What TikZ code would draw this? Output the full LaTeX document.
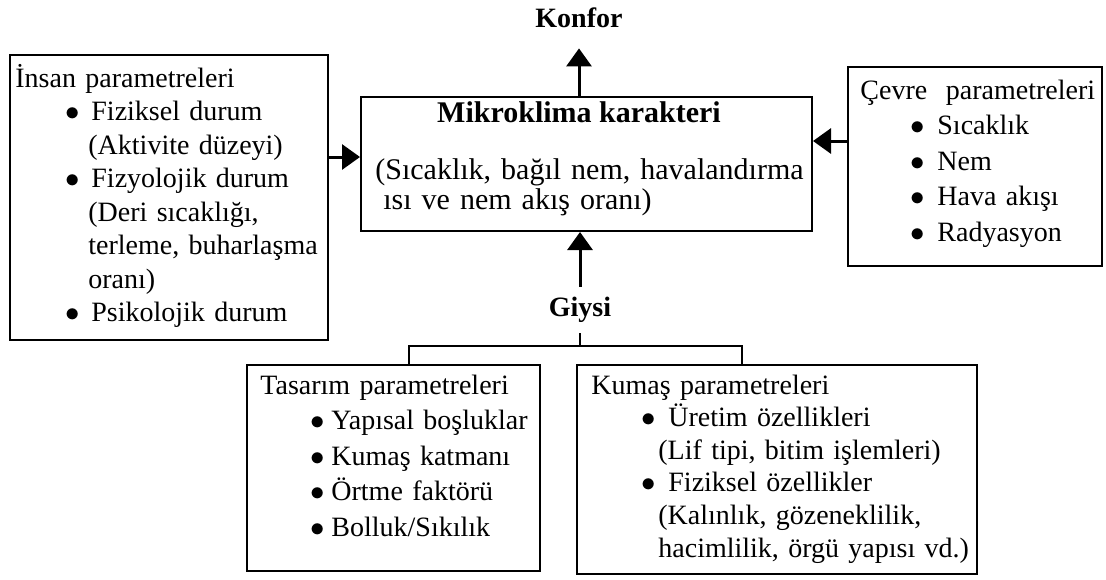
\documentclass[tikz,border=0pt]{standalone}
\usepackage{fontspec}
\setmainfont{Liberation Serif}
\usetikzlibrary{arrows.meta,fit}

\newcommand{\madde}[2][13pt]{\hspace*{25pt}\makebox[#1][l]{$\bullet$}#2}
\newcommand{\devam}{\hspace*{36.5pt}}

\tikzset{
  kutu/.style={draw, line width=1pt, inner sep=0pt},
  metin/.style={anchor=base west, align=left, inner sep=0pt, font=\fontsize{14}{#1}\selectfont},
  metin/.default=16.75pt,
  baslik/.style={font=\fontsize{14}{16.75}\selectfont\bfseries, inner sep=5pt},
  ok/.style={line width=1.5pt, -{Triangle[width=12.5pt,length=9pt]}},
  cizgi/.style={line width=1pt},
}

\begin{document}
\begin{tikzpicture}[x=0.5pt, y=-0.5pt]

   \useasboundingbox (0,0) rectangle (1106,579);

   % kutular
   \node [kutu, fit={(10,55) (328,340)}] (insan) {};
   \node [kutu, fit={(361,97) (812,231)}] (mikro) {};
   \node [kutu, fit={(848,67) (1102,266)}] (cevre) {};
   \node [kutu, fit={(247,365) (540,571)}] (tasarim) {};
   \node [kutu, fit={(577,365) (977,574)}] (kumas) {};

   % basliklar
   \node [baslik] (konfor) at (579,18) {Konfor};
   \node [baslik] (giysi) at (580,310) {Giysi};
   \node [baslik, inner sep=0pt, font=\fontsize{15}{18}\selectfont\bfseries] (mikroBaslik) at (579,112) {Mikroklima karakteri};

   % kutu icleri
   \node [metin, text width=160pt] (insanYazi) at (15,87) {%
      İnsan parametreleri\\
      \madde{Fiziksel durum}\\
      \devam(Aktivite düzeyi)\\
      \madde{Fizyolojik durum}\\
      \devam(Deri sıcaklığı,\\
      \devam terleme, buharlaşma\\
      \devam oranı)\\
      \madde{Psikolojik durum}};
   \node [metin=15pt, text width=230pt, font=\fontsize{15}{15}\selectfont] (mikroYazi) at (375,179) {%
      (Sıcaklık, bağıl nem, havalandırma\\
      \hspace*{4pt}ısı ve nem akış oranı)};
   \node [metin=17.75pt, text width=125pt] (cevreYazi) at (860,99) {%
      Çevre\ \ parametreleri\\
      \madde[13.5pt]{Sıcaklık}\\
      \madde[13.5pt]{Nem}\\
      \madde[13.5pt]{Hava akışı}\\
      \madde[13.5pt]{Radyasyon}};
   \node [metin=17.75pt, text width=145pt] (tasarimYazi) at (260,394) {%
      Tasarım parametreleri\\
      \madde[10.5pt]{Yapısal boşluklar}\\
      \madde[10.5pt]{Kumaş katmanı}\\
      \madde[10.5pt]{Örtme faktörü}\\
      \madde[10.5pt]{Bolluk/Sıkılık}};
   \node [metin=16.3pt, text width=195pt] (kumasYazi) at (591,394) {%
      Kumaş parametreleri\\
      \madde[13.5pt]{Üretim özellikleri}\\
      \hspace*{33.5pt}(Lif tipi, bitim işlemleri)\\
      \madde[13.5pt]{Fiziksel özellikler}\\
      \hspace*{33.5pt}(Kalınlık, gözeneklilik,\\
      \hspace*{33.5pt}hacimlilik, örgü yapısı vd.)};

   % oklar
   \coordinate (sol) at (0,157);
   \coordinate (sag) at (0,141);
   \draw [ok] (mikro.north -| konfor.south) -- ([yshift=-5pt]konfor.south);
   \draw [ok] (insan.east |- sol) -- (mikro.west |- sol);
   \draw [ok] (cevre.west |- sag) -- (mikro.east |- sag);
   \draw [ok] (giysi.north) -- (giysi.north |- mikro.south);

   % giysi catali
   \coordinate (catal) at (580,346);
   \draw [cizgi] (giysi.south) -- (catal);
   \draw [cizgi] ([xshift=81.5pt]tasarim.north west) |- (catal) -| ([xshift=83pt]kumas.north west);

\end{tikzpicture}
\end{document}
